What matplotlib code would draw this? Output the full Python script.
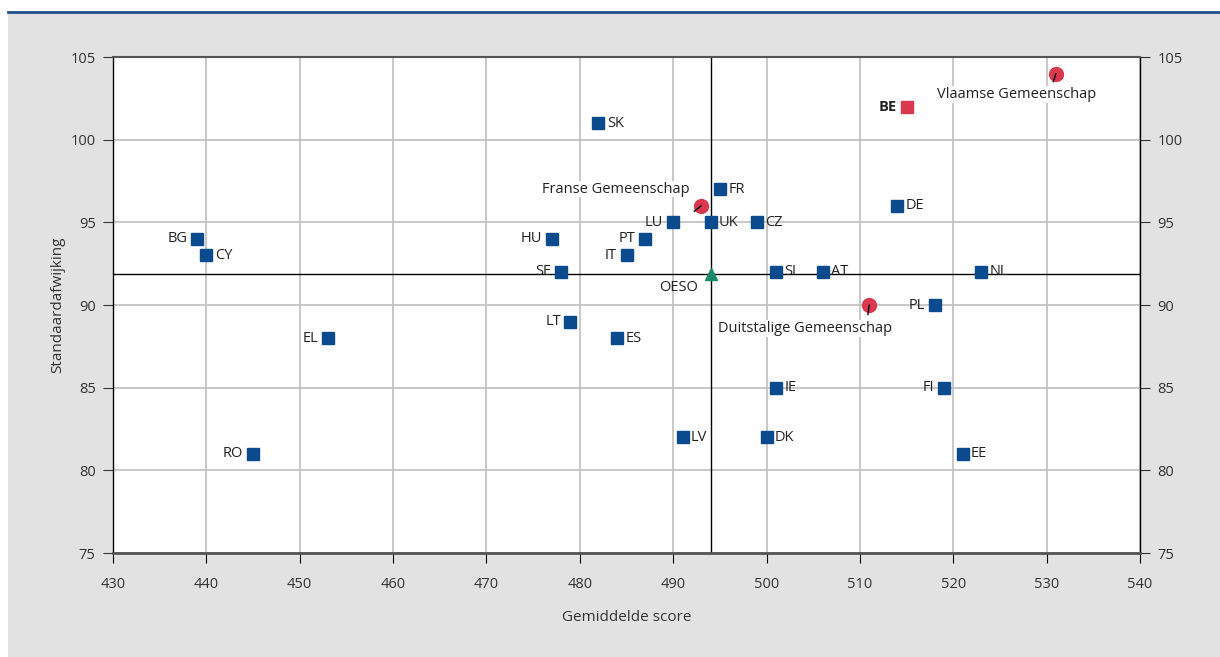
import matplotlib
matplotlib.use("Agg")
import matplotlib.pyplot as plt
from matplotlib.patches import Rectangle
from matplotlib.lines import Line2D

plt.rcParams['font.family'] = ['Open Sans', 'DejaVu Sans']

# countries (blue squares)
countries = ["SK", "FR", "LU", "UK", "CZ", "HU", "PT", "IT", "SE", "SI", "AT", "NL",
             "DE", "PL", "BG", "CY", "EL", "RO", "LT", "ES", "LV", "DK", "IE", "FI", "EE"]
country_score = [482, 495, 490, 494, 499, 477, 487, 485, 478, 501, 506, 523,
                 514, 518, 439, 440, 453, 445, 479, 484, 491, 500, 501, 519, 521]
country_sd = [101, 97, 95, 95, 95, 94, 94, 93, 92, 92, 92, 92,
              96, 90, 94, 93, 88, 81, 89, 88, 82, 82, 85, 85, 81]
label_left = ["LU", "HU", "PT", "IT", "SE", "PL", "BG", "EL", "RO", "LT", "FI"]

# Belgium
be_score = 515
be_sd = 102

# communities (red circles)
communities = ["Vlaamse Gemeenschap", "Franse Gemeenschap", "Duitstalige Gemeenschap"]
community_score = [531, 493, 511]
community_sd = [104, 96, 90]

# OECD average
oeso_score = 494
oeso_sd = 91.9

blue = "#0b4a8c"
red = "#d9384f"
green = "#1b8a6b"

fig = plt.figure(figsize=(12.2, 6.57), dpi=100)
fig.patches.append(Rectangle((8 / 1220, 0), 1, 1 - 13 / 657, transform=fig.transFigure,
                             facecolor="#e2e2e2", edgecolor="none", zorder=-10))
fig.lines.append(Line2D([8 / 1220, 1], [1 - 12 / 657, 1 - 12 / 657], transform=fig.transFigure,
                        color="#1f4e8c", linewidth=2))

ax = fig.add_axes([113 / 1220, 1 - 553 / 657, (1140 - 113) / 1220, (553 - 57) / 657])
ax.set_facecolor("white")
ax.set_xlim(430, 540)
ax.set_ylim(75, 105)
ax.set_xticks(range(430, 541, 10))
ax.set_yticks(range(75, 106, 5))
ax.grid(True, color="#c4c4c4", linewidth=1.3)
ax.set_axisbelow(True)
for s in ax.spines.values():
    s.set_color("black")
    s.set_linewidth(1)
ax.spines["bottom"].set_color("#555555")
ax.spines["bottom"].set_linewidth(2)
ax.spines["top"].set_color("#555555")
ax.spines["top"].set_linewidth(1.5)
ax.tick_params(axis="both", labelsize=10.5, colors="#333333", length=7.5, direction="out")
ax.tick_params(axis="x", pad=10, color="black")
ax.tick_params(axis="y", pad=5, right=True, labelright=True, color="#333333")

ax.axvline(oeso_score, color="black", linewidth=1, zorder=1.5)
ax.axhline(oeso_sd, color="black", linewidth=1, zorder=1.5)

ax.set_xlabel("Gemiddelde score", fontsize=11, color="#333333", labelpad=13)
ax.set_ylabel("Standaardafwijking", fontsize=11, color="#333333", labelpad=4)

ax.plot(country_score, country_sd, "s", color=blue, markersize=8.5, zorder=3)
for name, x, y in zip(countries, country_score, country_sd):
    if name in label_left:
        ax.annotate(name, (x, y), xytext=(-7, 0), textcoords="offset points",
                    ha="right", va="center", fontsize=10.5, color="#222222")
    else:
        ax.annotate(name, (x, y), xytext=(6, 0), textcoords="offset points",
                    ha="left", va="center", fontsize=10.5, color="#222222")

ax.plot([be_score], [be_sd], "s", color=red, markersize=9, zorder=3)
ax.annotate("BE", (be_score, be_sd), xytext=(-7, 0), textcoords="offset points",
            ha="right", va="center", fontsize=10.5, fontweight="bold", color="#222222")

ax.plot([oeso_score], [oeso_sd], "^", color=green, markersize=9, zorder=3)
ax.annotate("OESO", (oeso_score, oeso_sd), xytext=(-9, -10), textcoords="offset points",
            ha="right", va="center", fontsize=10.5, color="#222222")

ax.plot(community_score, community_sd, "o", color=red, markersize=10, zorder=3)
leaders = [(-2, -6), (-5, -4), (-1, -7)]
text_pos = [(-28, -15), (-8, 12), (-46, -17)]
text_align = ["center", "right", "center"]
for name, x, y, lead, tp, ha in zip(communities, community_score, community_sd,
                                     leaders, text_pos, text_align):
    ax.annotate("", (x, y), xytext=lead, textcoords="offset points",
                arrowprops=dict(arrowstyle="-", color="black", linewidth=1,
                                shrinkA=0, shrinkB=0), zorder=4)
    ax.annotate(name, (x, y), xytext=tp, textcoords="offset points",
                ha=ha, va="center", fontsize=10.5, color="#222222",
                bbox=dict(facecolor="white", edgecolor="none", pad=0.5), zorder=2.5)

fig.savefig("out.png", dpi=100)
